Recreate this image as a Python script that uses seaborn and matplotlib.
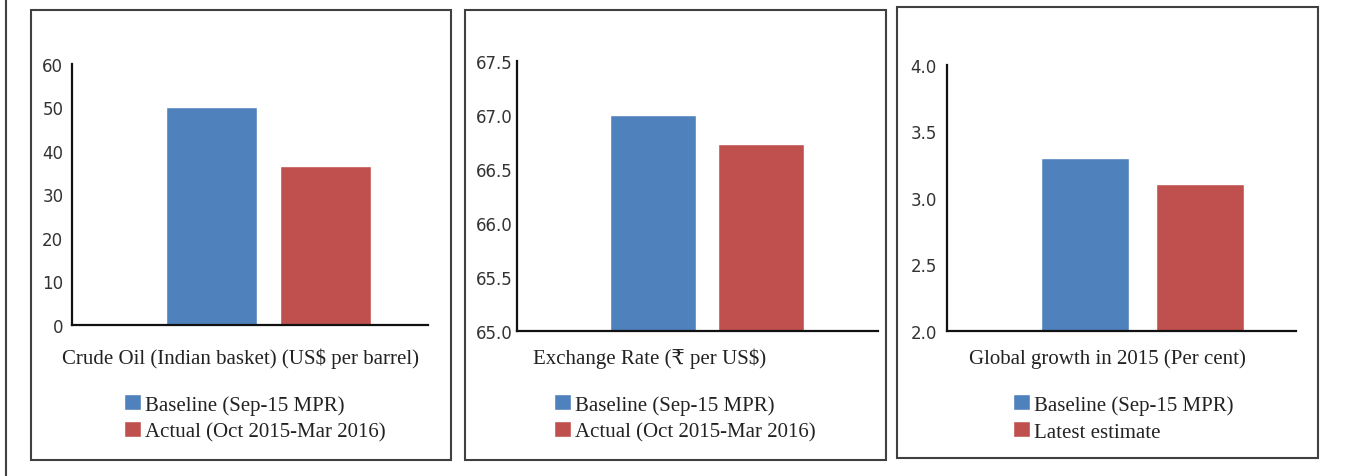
import numpy as np
import matplotlib
matplotlib.use("Agg")
import matplotlib.pyplot as plt
import pandas as pd
import seaborn as sns
from matplotlib.patches import Rectangle
from matplotlib.lines import Line2D

# chart data
panel_titles = [
    "Crude Oil (Indian basket) (US$ per barrel)",
    "Exchange Rate (\u20b9 per US$)",
    "Global growth in 2015 (Per cent)",
]
series_names = [
    ["Baseline (Sep-15 MPR)", "Actual (Oct 2015-Mar 2016)"],
    ["Baseline (Sep-15 MPR)", "Actual (Oct 2015-Mar 2016)"],
    ["Baseline (Sep-15 MPR)", "Latest estimate"],
]
crude_oil = [50.0, 36.5]
exchange_rate = [67.0, 66.73]
global_growth = [3.3, 3.1]
y_ticks = [
    [0, 10, 20, 30, 40, 50, 60],
    [65.0, 65.5, 66.0, 66.5, 67.0, 67.5],
    [2.0, 2.5, 3.0, 3.5, 4.0],
]
tick_fmt = ["{:.0f}", "{:.1f}", "{:.1f}"]

W, H = 1353, 477
BLUE = "#4F81BD"
RED = "#C0504D"

sns.set_style("white")
plt.rcParams["font.family"] = ["DejaVu Sans"]
serif = ["Liberation Serif", "DejaVu Serif", "DejaVu Sans"]

fig = plt.figure(figsize=(W / 100, H / 100), dpi=100)


def fx(px):
    return px / W


def fy(py):
    return 1 - py / H


# layout in pixels: box, axes (left, right, top, bottom), xlim, label centre, legend left, tick pad
layout = [
    dict(box=(31, 11, 451, 461), ax=(71.7, 428, 65, 325.7), xlim=(-1.233, 1.903),
         label_x=241, leg_x=124, pad=6.0, width=0.8),
    dict(box=(465, 11, 886, 461), ax=(517.3, 877.7, 62.3, 331.7), xlim=(-1.256, 2.08),
         label_x=650, leg_x=554, pad=3.6, width=0.8),
    dict(box=(897, 8, 1318, 459), ax=(947.3, 1295.7, 65.7, 331.7), xlim=(-1.2, 1.835),
         label_x=1107, leg_x=1013, pad=7.5, width=0.77),
]
values = [crude_oil, exchange_rate, global_growth]

for i, lay in enumerate(layout):
    x0, y0, x1, y1 = lay["box"]
    fig.patches.append(Rectangle((fx(x0), fy(y1)), fx(x1 - x0), (y1 - y0) / H,
                                 transform=fig.transFigure, fill=False,
                                 edgecolor="#404040", linewidth=1.5))

    l, r, t, b = lay["ax"]
    ax = fig.add_axes([fx(l), fy(b), fx(r - l), (b - t) / H])
    df = pd.DataFrame({"series": series_names[i], "value": values[i]})
    sns.barplot(data=df, x="series", y="value", hue="series",
                palette=[BLUE, RED], width=lay["width"], ax=ax, legend=False,
                saturation=1)

    ax.set_xlim(*lay["xlim"])
    ax.set_ylim(y_ticks[i][0], y_ticks[i][-1])
    ax.set_yticks(y_ticks[i])
    ax.set_yticklabels([tick_fmt[i].format(v) for v in y_ticks[i]])
    ax.set_xticks([])
    ax.set_xlabel("")
    ax.set_ylabel("")
    ax.tick_params(axis="y", length=0, pad=lay["pad"], labelsize=12, labelcolor="#333333")
    for s in ["top", "right"]:
        ax.spines[s].set_visible(False)
    for s in ["left", "bottom"]:
        ax.spines[s].set_color("#111111")
        ax.spines[s].set_linewidth(1.6)
    ax.patch.set_alpha(0)

    fig.text(fx(lay["label_x"]), fy(359), panel_titles[i], ha="center", va="center",
             fontsize=15, family=serif, color="#222222")

    handles = list(ax.containers)
    ax.legend(handles, series_names[i], loc="center left",
              bbox_to_anchor=(fx(lay["leg_x"]), fy(419)),
              bbox_transform=fig.transFigure, frameon=False,
              prop=dict(family=serif, size=15), labelcolor="#222222",
              handlelength=0.8, handleheight=0.8, handletextpad=0.2,
              labelspacing=0.32, borderpad=0, borderaxespad=0)

# left margin rule
fig.add_artist(Line2D([fx(6), fx(6)], [0, 1], transform=fig.transFigure,
                      color="#404040", linewidth=1.5))

fig.savefig("out.png", dpi=100)
